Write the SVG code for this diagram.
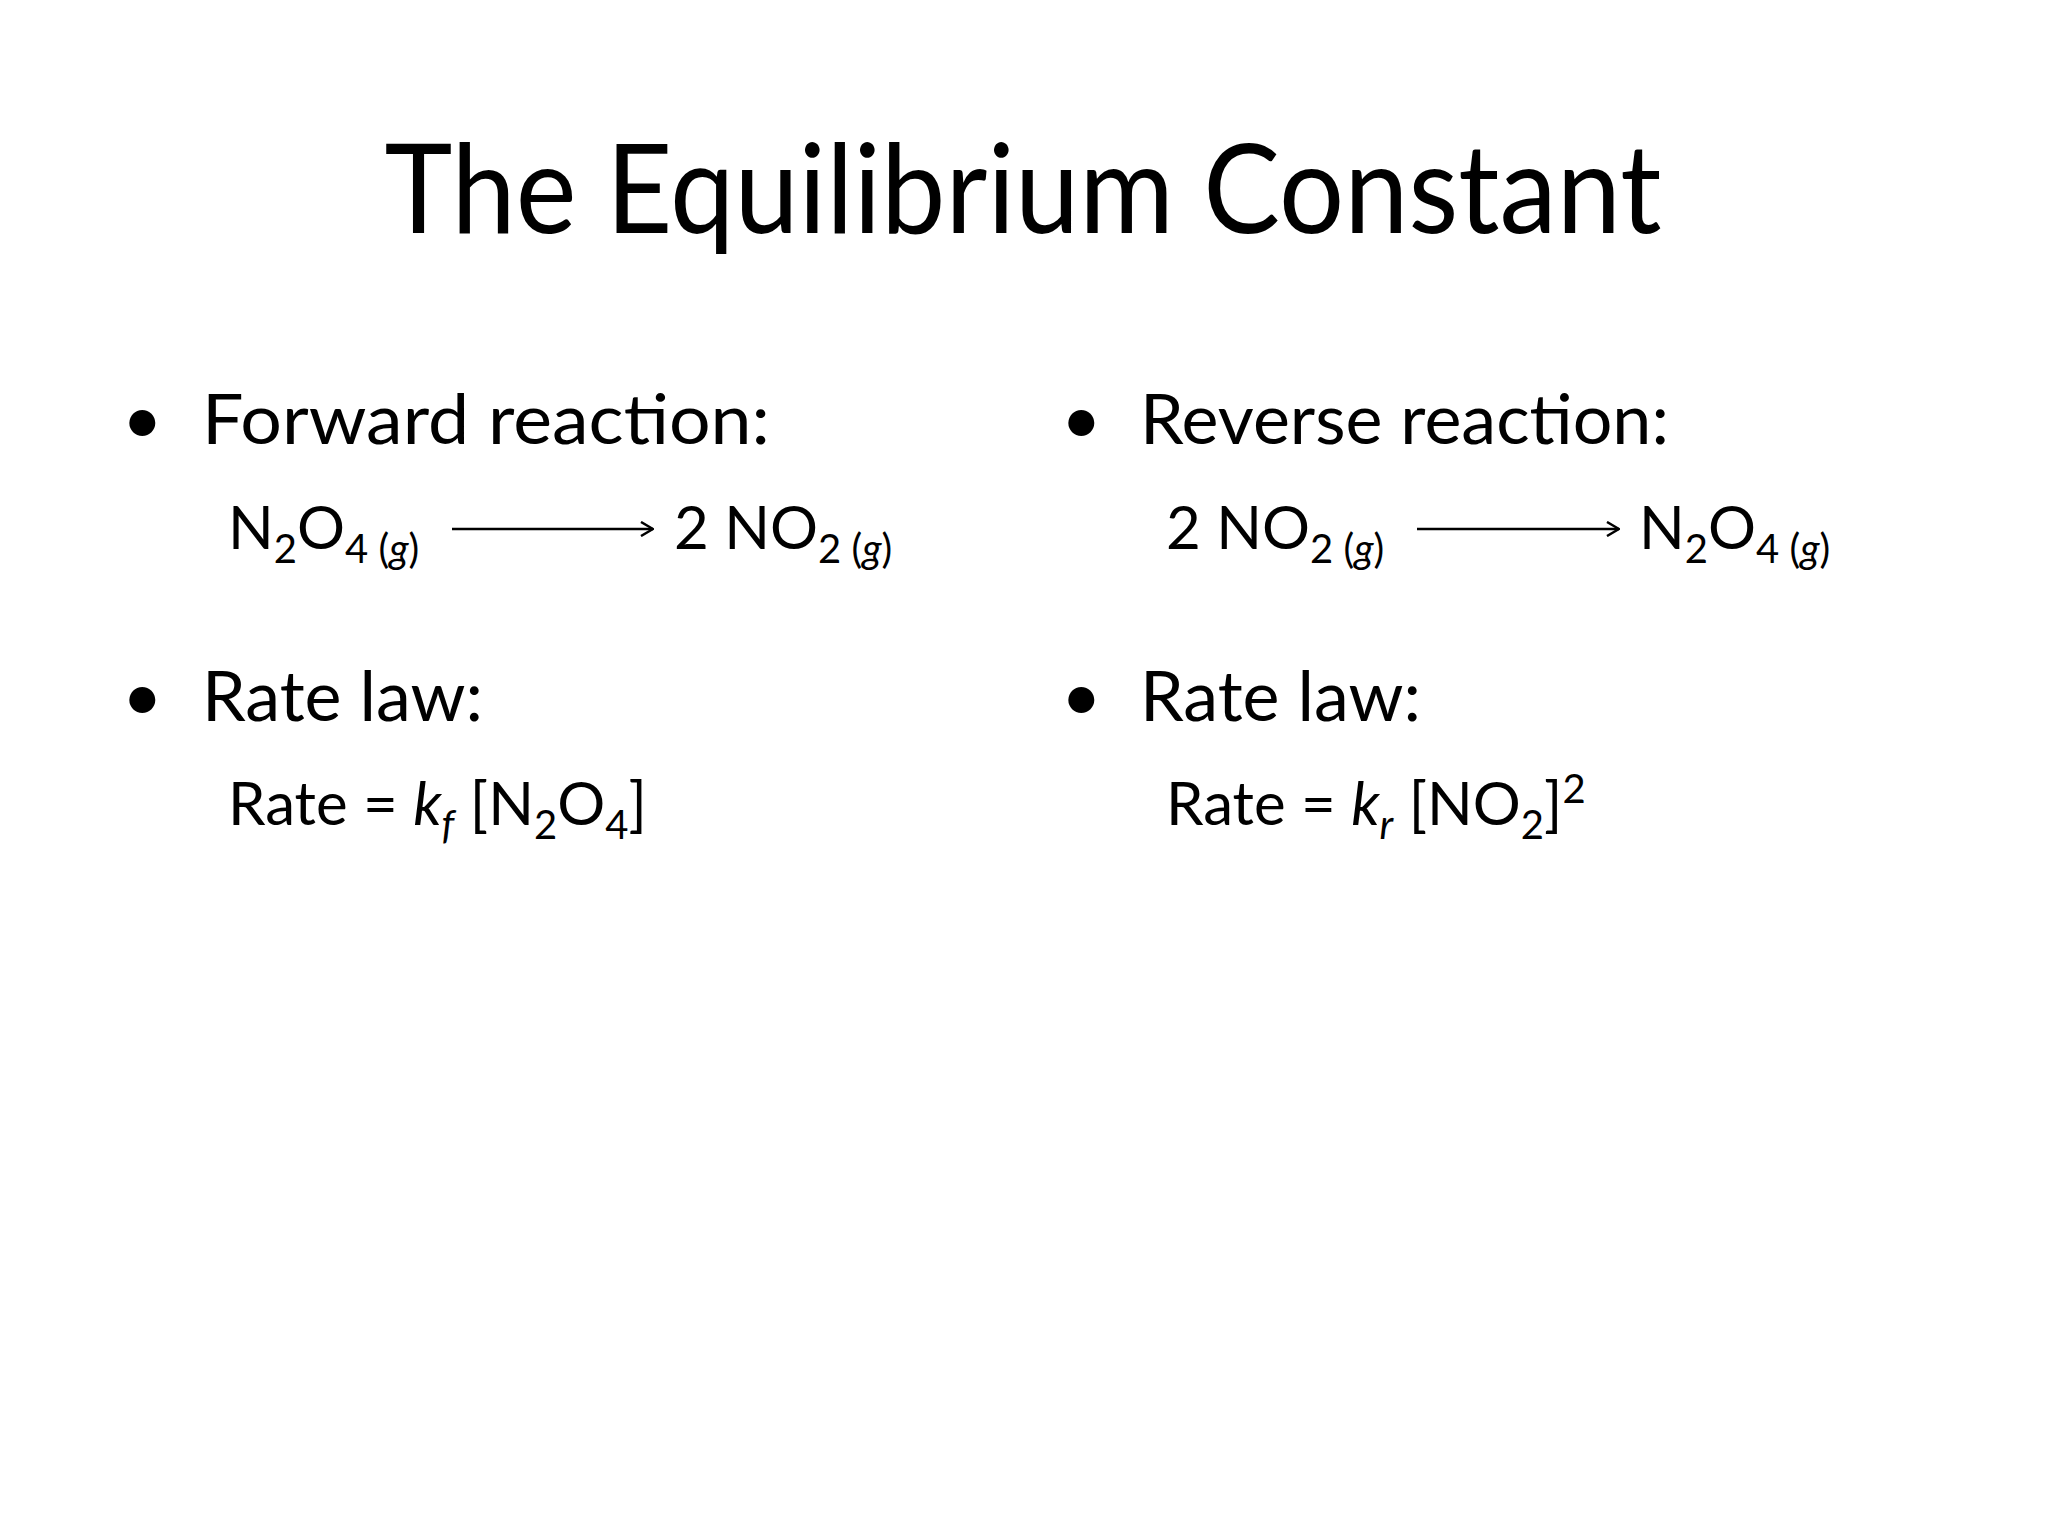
<svg xmlns="http://www.w3.org/2000/svg" width="2048" height="1536" viewBox="0 0 2048 1536">
<style>
text{font-family:Lato,"Open Sans",sans-serif;fill:#000}
.t{font-size:124px}
.b{font-size:70px}
.e{font-size:60px}
.s{font-size:40px}
.i{font-style:italic}
</style>
<defs><marker id="ah" markerWidth="14" markerHeight="16" refX="13" refY="8" orient="auto" markerUnits="userSpaceOnUse"><path d="M1,1 L13,8 L1,15" fill="none" stroke="#000" stroke-width="2.5"/></marker></defs>
<rect width="2048" height="1536" fill="#fff"/>
<g id="title"><text class="t" x="1023" y="233" text-anchor="middle" textLength="1277" lengthAdjust="spacingAndGlyphs">The Equilibrium Constant</text></g>
<g id="left">
<text class="b" x="122" y="444">•</text>
<text class="b" x="202" y="444" textLength="568" lengthAdjust="spacingAndGlyphs">Forward reaction:</text>
<text class="e" x="228" y="549">N<tspan class="s" dy="14">2</tspan><tspan dy="-14">O</tspan><tspan class="s" dy="14">4 (<tspan class="i">g</tspan>)</tspan></text>
<text class="e" x="674" y="549">2 NO<tspan class="s" dy="14">2 (<tspan class="i">g</tspan>)</tspan></text>
<text class="b" x="122" y="721">•</text>
<text class="b" x="202" y="721">Rate law:</text>
<text class="e" x="228" y="825">Rate = <tspan class="i">k</tspan><tspan class="s i" dy="14">f</tspan><tspan dy="-14"> [N</tspan><tspan class="s" dy="14">2</tspan><tspan dy="-14">O</tspan><tspan class="s" dy="14">4</tspan><tspan dy="-14">]</tspan></text>
</g>
<g id="right">
<text class="b" x="1061" y="444">•</text>
<text class="b" x="1140" y="444">Reverse reaction:</text>
<text class="e" x="1166" y="549">2 NO<tspan class="s" dy="14">2 (<tspan class="i">g</tspan>)</tspan></text>
<text class="e" x="1639" y="549">N<tspan class="s" dy="14">2</tspan><tspan dy="-14">O</tspan><tspan class="s" dy="14">4 (<tspan class="i">g</tspan>)</tspan></text>
<text class="b" x="1061" y="721">•</text>
<text class="b" x="1140" y="721">Rate law:</text>
<text class="e" x="1166" y="825">Rate = <tspan class="i">k</tspan><tspan class="s i" dy="14">r</tspan><tspan dy="-14"> [NO</tspan><tspan class="s" dy="14">2</tspan><tspan dy="-14">]</tspan><tspan class="s" dy="-22">2</tspan></text>
</g>
<g id="connectors" stroke="#000" stroke-width="2.5" fill="none">
<line x1="452" y1="529" x2="653" y2="529" marker-end="url(#ah)"/>
<line x1="1417" y1="529" x2="1619" y2="529" marker-end="url(#ah)"/>
</g>
</svg>
